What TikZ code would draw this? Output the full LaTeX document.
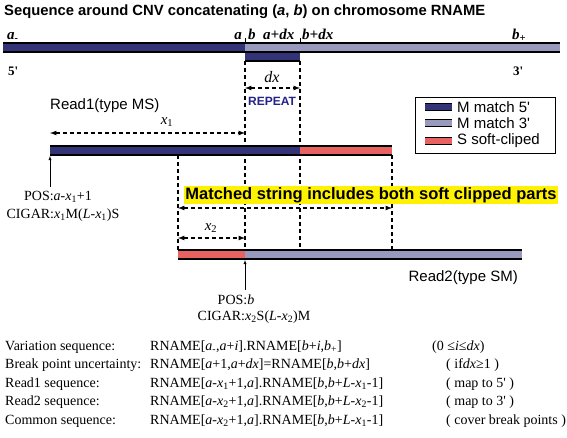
\documentclass[tikz,border=0pt]{standalone}
\usepackage{fontspec}
\setmainfont{Liberation Serif}
\setsansfont{Liberation Sans}
\usetikzlibrary{arrows}
\definecolor{m5}{RGB}{51,51,119}
\definecolor{m3}{RGB}{153,153,190}
\definecolor{sclip}{RGB}{232,98,98}
\definecolor{repblue}{RGB}{35,35,135}
\tikzset{
	titletxt/.style = {font=\sffamily\bfseries\fontsize{14.8}{17}\selectfont, inner sep=0pt},
	lbl/.style      = {font=\sffamily\fontsize{15}{17}\selectfont, inner sep=0pt},
	sertxt/.style   = {font=\fontsize{14}{16}\selectfont, inner sep=0pt},
	endlbl/.style   = {font=\bfseries\itshape\fontsize{15}{17}\selectfont, inner sep=0pt},
	dimline/.style  = {dash pattern=on 4pt off 3pt, line width=1.2pt},
	hilite/.style   = {fill=yellow, font=\sffamily\bfseries\fontsize{16.5}{18}\selectfont, inner sep=1pt}
}
% bar: x1, x2, ytop, height, colour
\newcommand{\seqbar}[5]{%
	\fill[#5] (#1,#3) rectangle (#2,#3+#4);
	\draw[line width=1.5pt] (#1,#3) -- (#2,#3) (#1,#3+#4) -- (#2,#3+#4);}
\newcommand{\xs}[1]{\textit{x}\textsubscript{#1}}
\newcommand{\pr}{\textquotesingle}

\begin{document}
\begin{tikzpicture}[x=1pt, y=-1pt, >=latex]
	\useasboundingbox (0,0) rectangle (567,437);

	\node[titletxt, anchor=west] (title) at (4,12)
		{Sequence around CNV concatenating (\textit{a}, \textit{b}) on chromosome RNAME};

	% chromosome
	\draw[dimline] (245,61) -- (245,250) (300,61) -- (300,250)
		(178,155) -- (178,250) (392,155) -- (392,250);
	\seqbar{3}{245}{43}{9}{m5}
	\seqbar{245}{560}{43}{9}{m3}
	\seqbar{245}{300}{52}{9}{m5}
	\draw[thin] (245,38) -- (245,43) (300,38) -- (300,43);
	\draw
	node at (7,39)[endlbl, anchor=base west] (aminus) {a\textsubscript{-}}
	node at (242,39)[endlbl, anchor=base east] (ta) {a}
	node at (248,39)[endlbl, anchor=base west] (tb) {b}
	node at (263,39)[endlbl, anchor=base west] (tadx) {a+dx}
	node at (302,39)[endlbl, anchor=base west] (tbdx) {b+dx}
	node at (512,39)[endlbl, anchor=base west] (bplus) {b\textsubscript{+}}
	node at (8,75)[endlbl, anchor=base west, font=\bfseries\fontsize{13}{15}\selectfont] (five) {5\pr}
	node at (513,75)[endlbl, anchor=base west, font=\bfseries\fontsize{13}{15}\selectfont] (three) {3\pr};

	% repeat
	\node[sertxt, font=\itshape\fontsize{16}{18}\selectfont] (dx) at (272,77) {dx};
	\coordinate (dxl) at (245,88);
	\coordinate (dxr) at (300,88);
	\draw[dimline, <->] (dxl) -- (dxr);
	\node[font=\sffamily\bfseries\fontsize{12}{14}\selectfont, text=repblue, inner sep=0pt] (rep) at (272,101) {REPEAT};

	% legend
	\draw[thick] (415,97) rectangle (555,153);
	\seqbar{425}{452}{103.5}{7}{m5}
	\seqbar{425}{452}{119.5}{7}{m3}
	\seqbar{425}{452}{137.5}{7}{sclip}
	\node[lbl, anchor=west] (leg1) at (457,107) {M match 5\pr};
	\node[lbl, anchor=west] (leg2) at (457,123) {M match 3\pr};
	\node[lbl, anchor=west] (leg3) at (457,141) {S soft-cliped};

	% read 1
	\node[lbl, anchor=west] (read1) at (50,106) {Read1(type MS)};
	\node[sertxt, font=\itshape\fontsize{15}{17}\selectfont] (x1) at (167,122) {x\textsubscript{\upshape 1}};
	\coordinate (x1l) at (50,133);
	\coordinate (x1r) at (245,133);
	\draw[dimline, <->] (x1l) -- (x1r);
	\seqbar{50}{300}{146}{9}{m5}
	\seqbar{300}{392}{146}{9}{sclip}
	\coordinate (r1foot) at (50,187);
	\coordinate (r1start) at (50,156);
	\draw[thin, ->] (r1foot) -- (r1start);
	\node[sertxt] (pos1) at (58,197) {POS:\textit{a}-\xs{1}+1};
	\node[sertxt] (cig1) at (63,215) {CIGAR:\xs{1}M(\textit{L}-\xs{1})S};

	% common part
	\node[hilite] (match) at (371,195) {Matched string includes both soft clipped parts};
	\coordinate (ml) at (178,208);
	\coordinate (mr) at (392,208);
	\draw[dimline, <->] (ml) -- (mr);
	\node[sertxt, font=\itshape\fontsize{15}{17}\selectfont] (x2) at (211,228) {x\textsubscript{\upshape 2}};
	\coordinate (x2l) at (178,238);
	\coordinate (x2r) at (245,238);
	\draw[dimline, <->] (x2l) -- (x2r);

	% read 2
	\seqbar{178}{245}{250}{9}{sclip}
	\seqbar{245}{522}{250}{9}{m3}
	\node[lbl, anchor=east] (read2) at (518,278) {Read2(type SM)};
	\coordinate (r2foot) at (245,290);
	\coordinate (r2start) at (245,260);
	\draw[thin, ->] (r2foot) -- (r2start);
	\node[sertxt] (pos2) at (236,300) {POS:\textit{b}};
	\node[sertxt] (cig2) at (254,317) {CIGAR:\xs{2}S(\textit{L}-\xs{2})M};

	% sequences
	\draw
	node at (5,347)[sertxt, anchor=west] (v1) {Variation sequence:}
	node at (150,347)[sertxt, anchor=west] (v2) {RNAME[\textit{a}\textsubscript{-},\textit{a}+\textit{i}].RNAME[\textit{b}+\textit{i},\textit{b}\textsubscript{+}]}
	node at (432,347)[sertxt, anchor=west] (v3) {(0 ≤\textit{i}≤\textit{dx})}
	node at (5,365)[sertxt, anchor=west] (u1) {Break point uncertainty:}
	node at (150,365)[sertxt, anchor=west] (u2) {RNAME[\textit{a}+1,\textit{a}+\textit{dx}]=RNAME[\textit{b},\textit{b}+\textit{dx}]}
	node at (446,365)[sertxt, anchor=west] (u3) {( if\textit{dx}≥1 )}
	node at (5,384)[sertxt, anchor=west] (s1) {Read1 sequence:}
	node at (150,384)[sertxt, anchor=west] (s2) {RNAME[\textit{a}-\xs{1}+1,\textit{a}].RNAME[\textit{b},\textit{b}+\textit{L}-\xs{1}-1]}
	node at (446,384)[sertxt, anchor=west] (s3) {( map to 5\pr\ )}
	node at (5,402)[sertxt, anchor=west] (t1) {Read2 sequence:}
	node at (150,402)[sertxt, anchor=west] (t2) {RNAME[\textit{a}-\xs{2}+1,\textit{a}].RNAME[\textit{b},\textit{b}+\textit{L}-\xs{2}-1]}
	node at (446,402)[sertxt, anchor=west] (t3) {( map to 3\pr\ )}
	node at (5,421)[sertxt, anchor=west] (c1) {Common sequence:}
	node at (150,421)[sertxt, anchor=west] (c2) {RNAME[\textit{a}-\xs{2}+1,\textit{a}].RNAME[\textit{b},\textit{b}+\textit{L}-\xs{1}-1]}
	node at (446,421)[sertxt, anchor=west] (c3) {( cover break points )};
\end{tikzpicture}
\end{document}
